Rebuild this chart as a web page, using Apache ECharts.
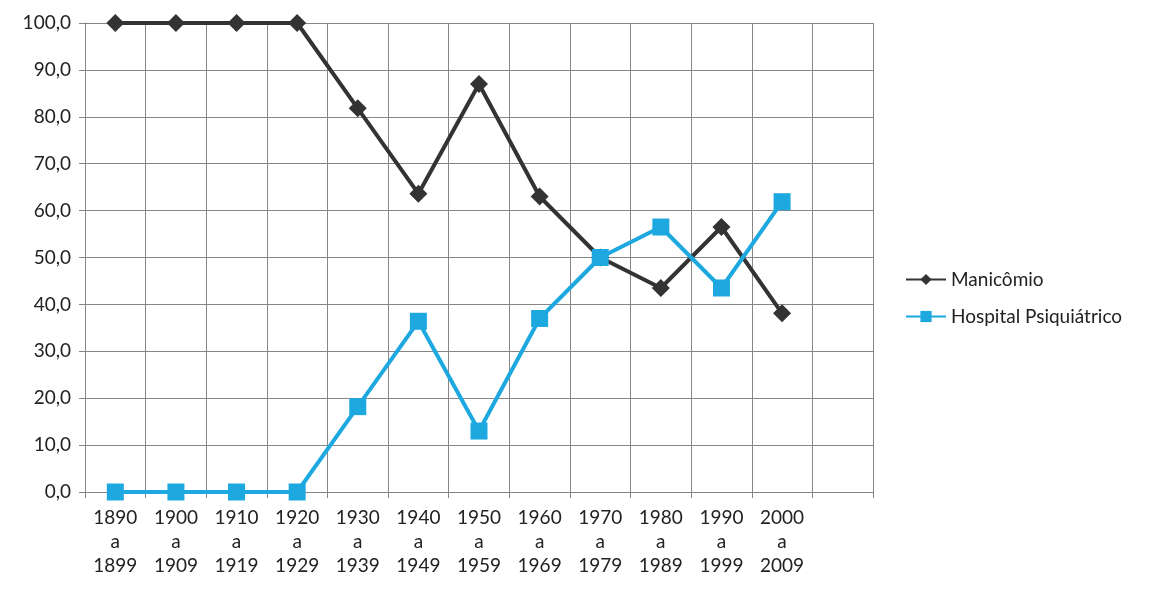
<!DOCTYPE html>
<html>
<head>
<meta charset="UTF-8">
<title>Manicômio x Hospital Psiquiátrico</title>
<script src="https://cdn.jsdelivr.net/npm/echarts@6/dist/echarts.min.js"></script>
<style type="text/css">
html, body {
	width: 100%;
	height: 100%;
	padding: 0px;
	margin: 0px;
	background: #fff;
}
</style>
</head>
<body>
	<div id="chart" style="width: 100%; height: 100%;"></div>

	<script type="text/javascript">
        // periodos (ultima categoria vazia)
        var categories = ['1890\na\n1899', '1900\na\n1909', '1910\na\n1919', '1920\na\n1929',
            '1930\na\n1939', '1940\na\n1949', '1950\na\n1959', '1960\na\n1969',
            '1970\na\n1979', '1980\na\n1989', '1990\na\n1999', '2000\na\n2009', ''];
        // percentuais
        var manicomio = [100, 100, 100, 100, 81.8, 63.6, 87.0, 63.0, 50.0, 43.5, 56.5, 38.1];
        var hospital = [0, 0, 0, 0, 18.2, 36.4, 13.0, 37.0, 50.0, 56.5, 43.5, 61.9];

        var fonte = '"Century Gothic", Lato, "DejaVu Sans", sans-serif';
        var myChart = echarts.init(document.getElementById('chart'));

        myChart.setOption({
            animation: false,
            textStyle: { fontFamily: fonte },
            grid: { left: 85, right: 298, top: 23, bottom: 103, containLabel: false },
            legend: {
                orient: 'vertical',
                left: 905,
                top: 270,
                padding: 0,
                itemWidth: 40,
                itemHeight: 14,
                itemGap: 18,
                textStyle: { fontSize: 19, color: '#222', fontFamily: fonte },
                data: ['Manicômio', 'Hospital Psiquiátrico']
            },
            xAxis: {
                type: 'category',
                data: categories,
                boundaryGap: true,
                axisLine: { lineStyle: { color: '#868686', width: 1 } },
                axisTick: { show: true, length: 6, lineStyle: { color: '#868686' } },
                axisLabel: { fontSize: 19, color: '#222', lineHeight: 24, margin: 14, interval: 0, fontFamily: fonte },
                splitLine: { show: true, lineStyle: { color: '#868686', width: 1 } }
            },
            yAxis: {
                type: 'value',
                min: 0,
                max: 100,
                interval: 10,
                axisLine: { show: true, lineStyle: { color: '#868686', width: 1 } },
                axisTick: { show: true, length: 6, lineStyle: { color: '#868686' } },
                axisLabel: {
                    fontSize: 19, color: '#222', margin: 14, fontFamily: fonte,
                    formatter: function (v) { return v.toFixed(1).replace('.', ','); }
                },
                splitLine: { show: true, lineStyle: { color: '#868686', width: 1 } }
            },
            series: [
                {
                    name: 'Manicômio',
                    type: 'line',
                    data: manicomio,
                    symbol: 'diamond',
                    symbolSize: 18,
                    lineStyle: { color: '#333333', width: 4 },
                    itemStyle: { color: '#333333' },
                    z: 2
                },
                {
                    name: 'Hospital Psiquiátrico',
                    type: 'line',
                    data: hospital,
                    symbol: 'rect',
                    symbolSize: 17,
                    lineStyle: { color: '#1ea8e0', width: 4 },
                    itemStyle: { color: '#1ea8e0' },
                    z: 3
                }
            ]
        });
	</script>
</body>
</html>
